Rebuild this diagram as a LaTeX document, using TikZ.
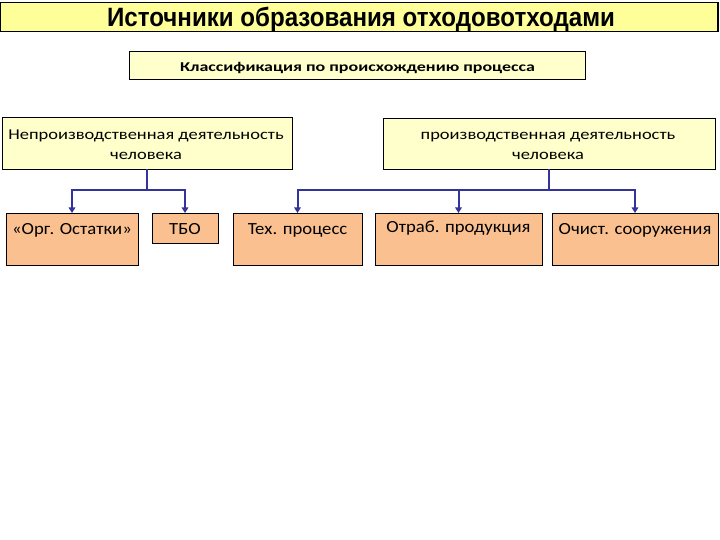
\documentclass[tikz,border=0pt]{standalone}
\usepackage{fontspec}
\usepackage{graphicx}
\setmainfont{Carlito}
\newfontfamily\arialfont{Liberation Sans}
\usetikzlibrary{arrows.meta}
\definecolor{titlefill}{HTML}{FFFF99}
\definecolor{paleyellow}{HTML}{FFFFCC}
\definecolor{peach}{HTML}{FAC090}
\definecolor{arrowblue}{HTML}{333399}
\newcommand{\hs}[2]{\scalebox{#1}[1]{#2}}
\tikzset{
  titlebox/.style={draw=black, line width=1.2pt, fill=titlefill, inner sep=0pt},
  headbox/.style={draw=black, line width=0.8pt, fill=paleyellow, inner sep=0pt},
  leafbox/.style={draw=black, line width=0.8pt, fill=peach, inner sep=0pt, anchor=north},
  txt/.style={inner sep=0pt, anchor=base},
  headtext/.style={txt, font=\fontsize{15}{20.5}\selectfont},
  leaftext/.style={txt, font=\fontsize{17}{20}\selectfont},
  conn/.style={draw=arrowblue, line width=2pt, -{Triangle[length=5.5pt,width=6.5pt]}},
  trunk/.style={draw=arrowblue, line width=2pt}
}
\begin{document}
\begin{tikzpicture}[x=1pt,y=-1pt]
\useasboundingbox (0,0) rectangle (720,540);
\fill[white] (0,0) rectangle (720,540);

% boxes
\node[titlebox, minimum width=718pt, minimum height=29pt] (title) at (359,17) {};
\node[headbox, minimum width=456pt, minimum height=28pt] (cls) at (357,65) {};
\node[headbox, minimum width=290pt, minimum height=52pt] (np) at (147,143) {};
\node[headbox, minimum width=332pt, minimum height=51pt] (pr) at (549,143.5) {};

\node[leafbox, minimum width=132pt, minimum height=52pt] (org) at (72,213) {};
\node[leafbox, minimum width=66pt, minimum height=30pt] (tbo) at (185,213) {};
\node[leafbox, minimum width=129pt, minimum height=52pt] (tex) at (297.5,213) {};
\node[leafbox, minimum width=167pt, minimum height=52pt] (otr) at (458.5,213) {};
\node[leafbox, minimum width=166pt, minimum height=52pt] (och) at (635,213) {};

% texts
\node[txt, font=\arialfont\bfseries\fontsize{26.5}{28}\selectfont] (titletext) at (361,26.5)
  {\hs{0.91}{Источники образования отходовотходами}};
\node[txt, font=\bfseries\fontsize{13.5}{16}\selectfont] (clstext) at (357.5,71.5)
  {\hs{1.33}{Классификация по происхождению процесса}};

\node[headtext] (np1) at (146,139.5) {\hs{1.23}{Непроизводственная деятельность}};
\node[headtext] (np2) at (146,160) {\hs{1.23}{человека}};
\node[headtext] (pr1) at (548,139.5) {\hs{1.23}{производственная деятельность}};
\node[headtext] (pr2) at (548,160) {\hs{1.23}{человека}};

\node[leaftext] (orgtext) at ([yshift=-21pt]org.north) {\hs{1.1}{«Орг. Остатки»}};
\node[leaftext] (tbotext) at ([yshift=-21pt]tbo.north) {\hs{1.1}{ТБО}};
\node[leaftext] (textext) at ([yshift=-21pt]tex.north) {\hs{1.1}{Тех. процесс}};
\node[leaftext] (otrtext) at ([yshift=-19.5pt]otr.north) {\hs{1.1}{Отраб. продукция}};
\node[leaftext] (ochtext) at ([yshift=-21pt]och.north) {\hs{1.1}{Очист. сооружения}};

% connectors
\coordinate (jl) at ([yshift=-21pt]np.south);
\coordinate (jr) at ([yshift=-21pt]pr.south);
\draw[trunk] (np.south) -- (jl);
\draw[trunk] (pr.south) -- (jr);
\draw[conn] (jl) -| (org.north);
\draw[conn] (jl) -| (tbo.north);
\draw[conn] (jr) -| (tex.north);
\draw[conn] (jr) -| (otr.north);
\draw[conn] (jr) -| (och.north);
\end{tikzpicture}
\end{document}
